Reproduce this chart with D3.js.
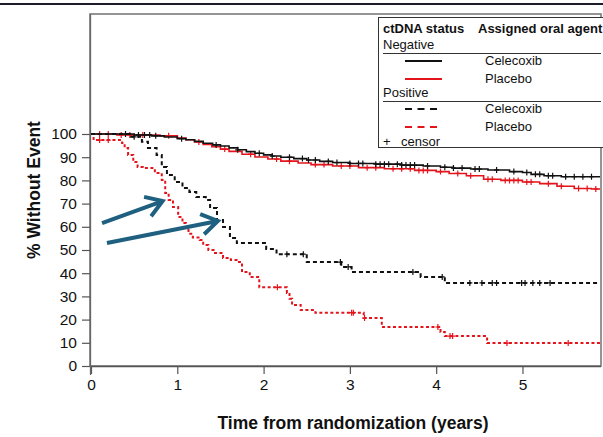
<!DOCTYPE html>
<html><head><meta charset="utf-8">
<script src="https://cdn.jsdelivr.net/npm/d3@7"></script>
<style>
html,body{margin:0;padding:0;background:#fff;}
svg{display:block;font-family:"Liberation Sans",Arial,Helvetica,sans-serif;}
</style></head>
<body>
<svg id="chart" width="603" height="437"></svg>
<script>
// ---------- DATA ----------
const xTicks = [0, 1, 2, 3, 4, 5];
const yTicks = [0, 10, 20, 30, 40, 50, 60, 70, 80, 90, 100];

// Negative ctDNA, Celecoxib (black solid): [years, % without event]
const negCelecoxib = [[0,100],[0.5,99.6],[0.7,99.2],[0.85,98.7],[1.0,98.0],[1.1,97.5],[1.2,96.8],[1.3,96.0],[1.41,95.3],[1.5,94.8],[1.6,94.0],[1.7,93.2],[1.8,92.4],[1.9,91.7],[2.0,91.0],[2.1,90.5],[2.2,90.0],[2.35,89.4],[2.5,88.8],[2.65,88.2],[2.8,87.7],[3.0,87.3],[3.3,87.0],[3.6,86.6],[3.85,86.2],[4.05,85.7],[4.2,85.3],[4.4,84.9],[4.6,84.5],[4.85,83.8],[5.0,83.4],[5.1,82.6],[5.25,82.0],[5.45,81.6]];
const negCelecoxibCensor = [0.55,0.62,0.68,0.75,1.05,1.45,1.7,1.95,2.1,2.3,2.45,2.52,2.6,2.75,2.85,3.0,3.1,3.15,3.3,3.35,3.4,3.45,3.55,3.6,3.65,3.7,3.75,3.9,4.1,4.2,4.3,4.45,4.5,4.7,4.9,5.05,5.15,5.2,5.3,5.35,5.5,5.6,5.7,5.8];

// Negative ctDNA, Placebo (red solid)
const negPlacebo = [[0,100],[0.3,99.6],[0.8,99.2],[1.0,98.3],[1.1,97.5],[1.2,96.6],[1.3,95.5],[1.4,94.5],[1.5,93.5],[1.6,92.5],[1.75,91.3],[1.9,90.1],[2.05,89.2],[2.2,88.3],[2.4,87.5],[2.55,86.8],[2.8,86.2],[3.1,85.5],[3.4,85.0],[3.75,84.3],[4.0,83.8],[4.15,83.0],[4.35,82.0],[4.55,80.5],[4.75,80.0],[5.0,79.3],[5.2,78.6],[5.4,77.5],[5.6,76.5],[5.8,76.3]];
const negPlaceboCensor = [0.1,0.2,0.35,0.45,0.6,0.9,1.25,1.55,1.85,2.15,2.3,2.6,2.7,2.9,3.0,3.2,3.3,3.5,3.6,3.7,3.8,3.85,3.9,4.05,4.25,4.4,4.6,4.65,4.8,4.85,4.9,4.95,5.05,5.1,5.3,5.45,5.65,5.75,5.85];

// Positive ctDNA, Celecoxib (black dashed)
const posCelecoxib = [[0,100],[0.45,98.8],[0.59,96.7],[0.66,94.0],[0.76,91.0],[0.82,85.8],[0.88,82.3],[0.97,79.3],[1.06,76.7],[1.14,75.0],[1.22,72.8],[1.33,71.6],[1.38,68.1],[1.46,62.9],[1.53,59.9],[1.61,55.2],[1.69,53.0],[2.03,50.4],[2.15,48.2],[2.5,44.8],[2.9,42.7],[3.02,40.5],[3.82,38.4],[4.1,35.8]];
const posCelecoxibCensor = [0.4,0.5,2.27,2.46,2.89,2.98,3.73,4.07,4.39,4.53,4.65,4.7,4.99,5.03,5.12,5.2,5.32];

// Positive ctDNA, Placebo (red dashed)
const posPlacebo = [[0,100],[0.03,97.4],[0.36,96.1],[0.39,94.0],[0.43,91.0],[0.49,87.9],[0.54,85.8],[0.6,85.3],[0.74,83.2],[0.82,80.2],[0.86,74.6],[0.9,71.6],[0.95,68.5],[1.01,64.2],[1.06,61.6],[1.1,58.6],[1.13,57.0],[1.18,55.4],[1.26,54.3],[1.3,52.2],[1.36,50.0],[1.42,48.7],[1.53,46.6],[1.62,45.7],[1.7,44.8],[1.75,40.5],[1.84,38.4],[1.95,33.9],[2.27,31.5],[2.3,29.0],[2.33,26.3],[2.43,24.1],[2.6,23.0],[3.16,20.7],[3.37,16.8],[4.05,14.7],[4.1,12.9],[4.59,9.9]];
const posPlaceboCensor = [0.1,0.2,2.16,3.02,3.04,3.17,4.02,4.16,4.19,4.82,5.53];

// Annotation arrows (data units): tail -> tip
const arrows = [
  {from:[0.128,61.6], to:[0.83,71.1]},
  {from:[0.185,53.0], to:[1.47,62.5]}
];

const legendGroups = ["Negative", "Positive"];
const legendArms = ["Celecoxib", "Placebo"];

// ---------- CHART ----------
const svg = d3.select("#chart");
const W = 603, H = 437;
const x = d3.scaleLinear().domain([0, 5.91]).range([91, 601]);
const y = d3.scaleLinear().domain([0, 100]).range([366, 134]);

const black = "#111111", red = "#e3141b", arrowCol = "#1f5f80";

// top slide rule
svg.append("line").attr("x1",0).attr("x2",W).attr("y1",4).attr("y2",4)
  .attr("stroke","#1c1c2a").attr("stroke-width",2);

// plot frame
svg.append("rect").attr("x",90).attr("y",14).attr("width",511).attr("height",352)
  .attr("fill","none").attr("stroke","#7a7a7a").attr("stroke-width",1.6);

// axes
const yAxis = d3.axisLeft(y).tickValues(yTicks).tickSize(8).tickPadding(5).tickFormat(d3.format("d"));
const gy = svg.append("g").attr("transform","translate(90,0)").call(yAxis);
gy.select(".domain").remove();
gy.selectAll(".tick line").attr("stroke","#555").attr("stroke-width",1.2);
gy.selectAll(".tick text").attr("font-size",15.5).attr("fill","#111")
  .attr("font-family","'Liberation Sans',Arial,sans-serif");

const xAxis = d3.axisBottom(x).tickValues(xTicks).tickSize(8).tickPadding(5).tickFormat(d3.format("d"));
const gx = svg.append("g").attr("transform","translate(0,366)").call(xAxis);
gx.select(".domain").remove();
gx.selectAll(".tick line").attr("stroke","#555").attr("stroke-width",1.2);
gx.selectAll(".tick text").attr("font-size",15.5).attr("fill","#111")
  .attr("font-family","'Liberation Sans',Arial,sans-serif");
svg.append("line").attr("x1",90).attr("x2",601).attr("y1",366.5).attr("y2",366.5)
  .attr("stroke","#555").attr("stroke-width",1.3);
svg.append("line").attr("x1",90.5).attr("x2",90.5).attr("y1",14).attr("y2",375)
  .attr("stroke","#666").attr("stroke-width",1.3);

// axis titles
svg.append("text").attr("x",353).attr("y",429).attr("text-anchor","middle")
  .attr("font-weight","bold").attr("font-size",17.5).attr("fill","#111")
  .text("Time from randomization (years)");
svg.append("text").attr("transform","translate(40,190) rotate(-90)").attr("text-anchor","middle")
  .attr("font-weight","bold").attr("font-size",17.5).attr("fill","#111")
  .text("% Without Event");

// clip
svg.append("clipPath").attr("id","clip").append("rect")
  .attr("x",91).attr("y",15).attr("width",509).attr("height",351);
const plot = svg.append("g").attr("clip-path","url(#clip)");

const xEnd = x.domain()[1];
const line = d3.line().x(d=>x(d[0])).y(d=>y(d[1])).curve(d3.curveStepAfter);
const bis = d3.bisector(d=>d[0]).right;
const valAt = (data,t)=>data[Math.max(0,bis(data,t)-1)][1];

const series = [
  {data:negPlacebo, censor:negPlaceboCensor, color:red, dash:null, w:1.6},
  {data:negCelecoxib, censor:negCelecoxibCensor, color:black, dash:null, w:1.6},
  {data:posPlacebo, censor:posPlaceboCensor, color:red, dash:"3,2.5", w:2},
  {data:posCelecoxib, censor:posCelecoxibCensor, color:black, dash:"4,3", w:2}
];

series.forEach(s=>{
  const pts = s.data.concat([[xEnd, s.data[s.data.length-1][1]]]);
  plot.append("path").attr("d",line(pts)).attr("fill","none")
    .attr("stroke",s.color).attr("stroke-width",s.w)
    .attr("stroke-dasharray",s.dash);
  const g = plot.append("g").attr("stroke",s.color).attr("stroke-width",1.2);
  s.censor.forEach(t=>{
    const cx = x(t), cy = y(valAt(s.data,t));
    g.append("path").attr("d",`M${cx},${cy-3}V${cy+3}M${cx-2.5},${cy}H${cx+2.5}`);
  });
});

// arrows
arrows.forEach(a=>{
  const x1=x(a.from[0]), y1=y(a.from[1]), x2=x(a.to[0]), y2=y(a.to[1]);
  const ang = Math.atan2(y2-y1, x2-x1), L=19, sp=Math.PI/5.5;
  const p1=[x2-L*Math.cos(ang-sp), y2-L*Math.sin(ang-sp)];
  const p2=[x2-L*Math.cos(ang+sp), y2-L*Math.sin(ang+sp)];
  svg.append("path").attr("d",`M${x1},${y1}L${x2},${y2}M${p1[0]},${p1[1]}L${x2},${y2}L${p2[0]},${p2[1]}`)
    .attr("fill","none").attr("stroke",arrowCol).attr("stroke-width",4)
    .attr("stroke-linecap","butt").attr("stroke-linejoin","miter");
});

// legend
const lg = svg.append("g");
lg.append("rect").attr("x",378.5).attr("y",17.5).attr("width",240).attr("height",130)
  .attr("fill","#fff").attr("stroke","#333").attr("stroke-width",1);
const tx = (xx,yy,t,bold)=>lg.append("text").attr("x",xx).attr("y",yy).attr("font-size",13)
  .attr("font-weight",bold?"bold":"normal").attr("fill","#111").text(t);
tx(383,33,"ctDNA status",true);
tx(478,33,"Assigned oral agent",true);
const rows = [
  {g:0, top:38},
  {g:1, top:86}
];
rows.forEach((r,i)=>{
  tx(383,r.top+11,legendGroups[r.g],false);
  lg.append("line").attr("x1",383).attr("x2",601).attr("y1",r.top+15.5).attr("y2",r.top+15.5)
    .attr("stroke","#333").attr("stroke-width",1);
  legendArms.forEach((arm,j)=>{
    const yy = r.top+23+j*18;
    lg.append("line").attr("x1",405).attr("x2",442).attr("y1",yy).attr("y2",yy)
      .attr("stroke", j===0?black:red).attr("stroke-width",2.2)
      .attr("stroke-dasharray", r.g===1?"7,5.5":null);
    tx(485,yy+4,arm,false);
  });
});
tx(383,146,"+",false);
tx(401,146,"censor",false);
</script>
</body></html>
